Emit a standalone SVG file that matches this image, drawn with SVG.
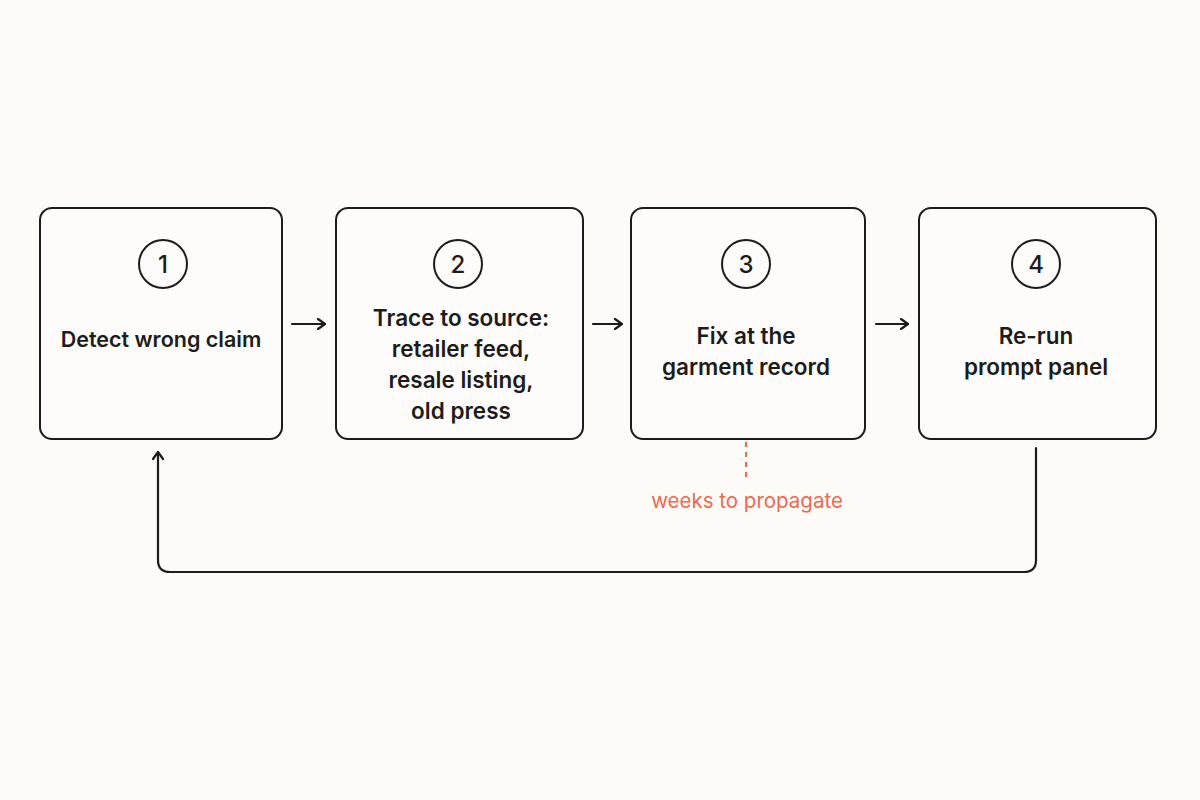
<svg xmlns="http://www.w3.org/2000/svg" width="1200" height="800" viewBox="0 0 1200 800">
<style>
.box{fill:#fdfcfa;stroke:#1c1c1c;stroke-width:2}
.num{fill:none;stroke:#1c1c1c;stroke-width:2}
.numt{font-family:Inter,"Liberation Sans",sans-serif;font-size:24px;font-weight:500;fill:#1c1c1c;text-anchor:middle}
.lbl{font-family:Inter,"Liberation Sans",sans-serif;font-size:22.5px;font-weight:600;fill:#1c1c1c;text-anchor:middle}
.conn{fill:none;stroke:#1c1c1c;stroke-width:2.2;stroke-linecap:round;stroke-linejoin:round}
.note{font-family:Inter,"Liberation Sans",sans-serif;font-size:20.5px;fill:#f0694f;text-anchor:middle}
</style>
<defs>
<marker id="ah" viewBox="0 0 12 12" refX="11" refY="6" markerWidth="12" markerHeight="12" markerUnits="userSpaceOnUse" orient="auto">
<path d="M4 1 L11 6 L4 11" fill="none" stroke="#1c1c1c" stroke-width="2.2" stroke-linecap="round" stroke-linejoin="round"/>
</marker>
</defs>
<rect width="1200" height="800" fill="#fcfbf8"/>
<g id="connectors">
<line class="conn" x1="292" y1="324" x2="325" y2="324" marker-end="url(#ah)"/>
<line class="conn" x1="593" y1="324" x2="622" y2="324" marker-end="url(#ah)"/>
<line class="conn" x1="876" y1="324" x2="908" y2="324" marker-end="url(#ah)"/>
<path class="conn" d="M1036 448 V560 Q1036 572 1024 572 H170 Q158 572 158 560 V452" marker-end="url(#ah)"/>
<line x1="746" y1="442" x2="746" y2="480" stroke="#f0694f" stroke-width="2" stroke-dasharray="5 5"/>
<text class="note" x="747" y="508">weeks to propagate</text>
</g>
<g id="node1">
<rect class="box" x="40" y="208" width="242" height="231" rx="12"/>
<circle class="num" cx="163" cy="264" r="24"/>
<text class="numt" x="163" y="273">1</text>
<text class="lbl" x="161" y="347" style="font-size:21.5px">Detect wrong claim</text>
</g>
<g id="node2">
<rect class="box" x="336" y="208" width="247" height="231" rx="12"/>
<circle class="num" cx="458" cy="264" r="24"/>
<text class="numt" x="458" y="273">2</text>
<text class="lbl" x="461" y="326">Trace to source:</text>
<text class="lbl" x="461" y="357">retailer feed,</text>
<text class="lbl" x="461" y="388">resale listing,</text>
<text class="lbl" x="461" y="419">old press</text>
</g>
<g id="node3">
<rect class="box" x="631" y="208" width="234" height="231" rx="12"/>
<circle class="num" cx="746" cy="264" r="24"/>
<text class="numt" x="746" y="273">3</text>
<text class="lbl" x="746" y="344">Fix at the</text>
<text class="lbl" x="746" y="375">garment record</text>
</g>
<g id="node4">
<rect class="box" x="919" y="208" width="237" height="231" rx="12"/>
<circle class="num" cx="1036" cy="264" r="24"/>
<text class="numt" x="1036" y="273">4</text>
<text class="lbl" x="1036" y="344">Re-run</text>
<text class="lbl" x="1036" y="375">prompt panel</text>
</g>
</svg>
